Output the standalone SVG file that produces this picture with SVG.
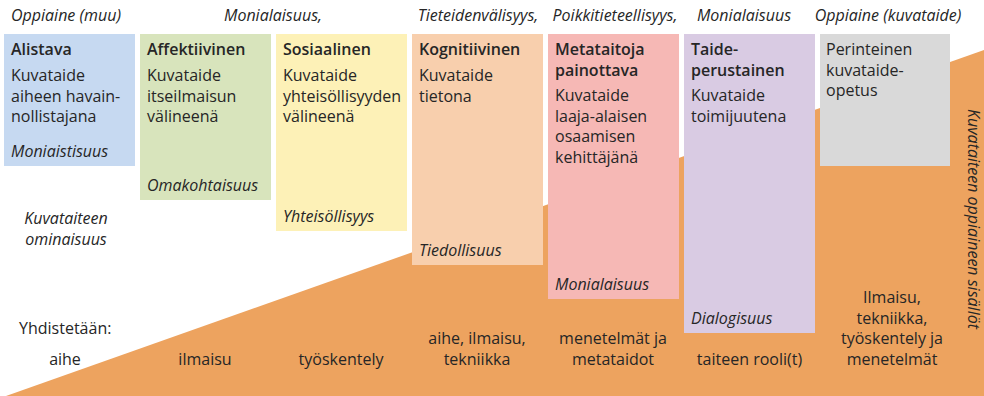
<svg xmlns="http://www.w3.org/2000/svg" width="984" height="396" viewBox="0 0 984 396">
<style>
text{font-family:"Open Sans","Noto Sans","Liberation Sans",sans-serif;fill:#262626;font-size:16px}
.t{font-weight:600}
.i{font-style:italic}
.h{font-style:italic;font-size:16px;text-anchor:middle}
.c{text-anchor:middle}
</style>
<rect width="984" height="396" fill="#ffffff"/>
<polygon id="base" points="6,396 984,50 984,396" fill="#eda35f"/>

<g id="headers">
<text class="h" x="66" y="21">Oppiaine (muu)</text>
<text class="h" x="273" y="21">Monialaisuus,</text>
<text class="h" x="478" y="21">Tieteidenvälisyys,</text>
<text class="h" x="615" y="21">Poikkitieteellisyys,</text>
<text class="h" x="744" y="21">Monialaisuus</text>
<text class="h" x="888" y="21">Oppiaine (kuvataide)</text>
</g>

<g id="alistava">
<rect x="4" y="34" width="131" height="132" fill="#c6d9f1"/>
<text class="t" x="11" y="55">Alistava</text>
<text x="11" y="81">Kuvataide</text>
<text x="11" y="101.5">aiheen havain-</text>
<text x="11" y="122">nollistajana</text>
<text class="i" x="11" y="157">Moniaistisuus</text>
</g>

<g id="affektiivinen">
<rect x="140" y="34" width="131" height="166" fill="#d8e4bc"/>
<text class="t" x="147" y="55">Affektiivinen</text>
<text x="147" y="81">Kuvataide</text>
<text x="147" y="101.5">itseilmaisun</text>
<text x="147" y="122">välineenä</text>
<text class="i" x="147" y="191">Omakohtaisuus</text>
</g>

<g id="sosiaalinen">
<rect x="276" y="34" width="131" height="197" fill="#fdf1b7"/>
<text class="t" x="283" y="55">Sosiaalinen</text>
<text x="283" y="81">Kuvataide</text>
<text x="283" y="101.5">yhteisöllisyyden</text>
<text x="283" y="122">välineenä</text>
<text class="i" x="283" y="222">Yhteisöllisyys</text>
</g>

<g id="kognitiivinen">
<rect x="412" y="34" width="131" height="231" fill="#f8cfad"/>
<text class="t" x="419" y="55">Kognitiivinen</text>
<text x="419" y="81">Kuvataide</text>
<text x="419" y="101.5">tietona</text>
<text class="i" x="419" y="256">Tiedollisuus</text>
</g>

<g id="metataitoja">
<rect x="548" y="34" width="131" height="265" fill="#f6b8b5"/>
<text class="t" x="555" y="55">Metataitoja</text>
<text class="t" x="555" y="75.5">painottava</text>
<text x="555" y="101">Kuvataide</text>
<text x="555" y="121.5">laaja-alaisen</text>
<text x="555" y="142">osaamisen</text>
<text x="555" y="162.5">kehittäjänä</text>
<text class="i" x="555" y="290">Monialaisuus</text>
</g>

<g id="taideperustainen">
<rect x="684" y="34" width="131" height="299" fill="#d9cbe3"/>
<text class="t" x="691" y="55">Taide-</text>
<text class="t" x="691" y="75.5">perustainen</text>
<text x="691" y="101">Kuvataide</text>
<text x="691" y="121.5">toimijuutena</text>
<text class="i" x="691" y="324">Dialogisuus</text>
</g>

<g id="perinteinen">
<rect x="820" y="34" width="130" height="132" fill="#d9d9d9"/>
<text x="826" y="55">Perinteinen</text>
<text x="826" y="75.5">kuvataide-</text>
<text x="826" y="96">opetus</text>
</g>

<g id="ominaisuus">
<text class="i c" x="66" y="224">Kuvataiteen</text>
<text class="i c" x="66" y="244.5">ominaisuus</text>
</g>

<g id="sisallot">
<text class="i c" transform="translate(968,219) rotate(90)">Kuvataiteen oppiaineen sisällöt</text>
</g>

<g id="yhdistetaan">
<text x="19" y="334">Yhdistetään:</text>
<text class="c" x="65" y="365">aihe</text>
<text class="c" x="205" y="365">ilmaisu</text>
<text class="c" x="341" y="365">työskentely</text>
<text class="c" x="477" y="344">aihe, ilmaisu,</text>
<text class="c" x="477" y="364.5">tekniikka</text>
<text class="c" x="613" y="344">menetelmät ja</text>
<text class="c" x="613" y="364.5">metataidot</text>
<text class="c" x="749.5" y="364.5">taiteen rooli(t)</text>
<text class="c" x="892" y="303">Ilmaisu,</text>
<text class="c" x="892" y="323.5">tekniikka,</text>
<text class="c" x="892" y="344">työskentely ja</text>
<text class="c" x="892" y="364.5">menetelmät</text>
</g>
</svg>
